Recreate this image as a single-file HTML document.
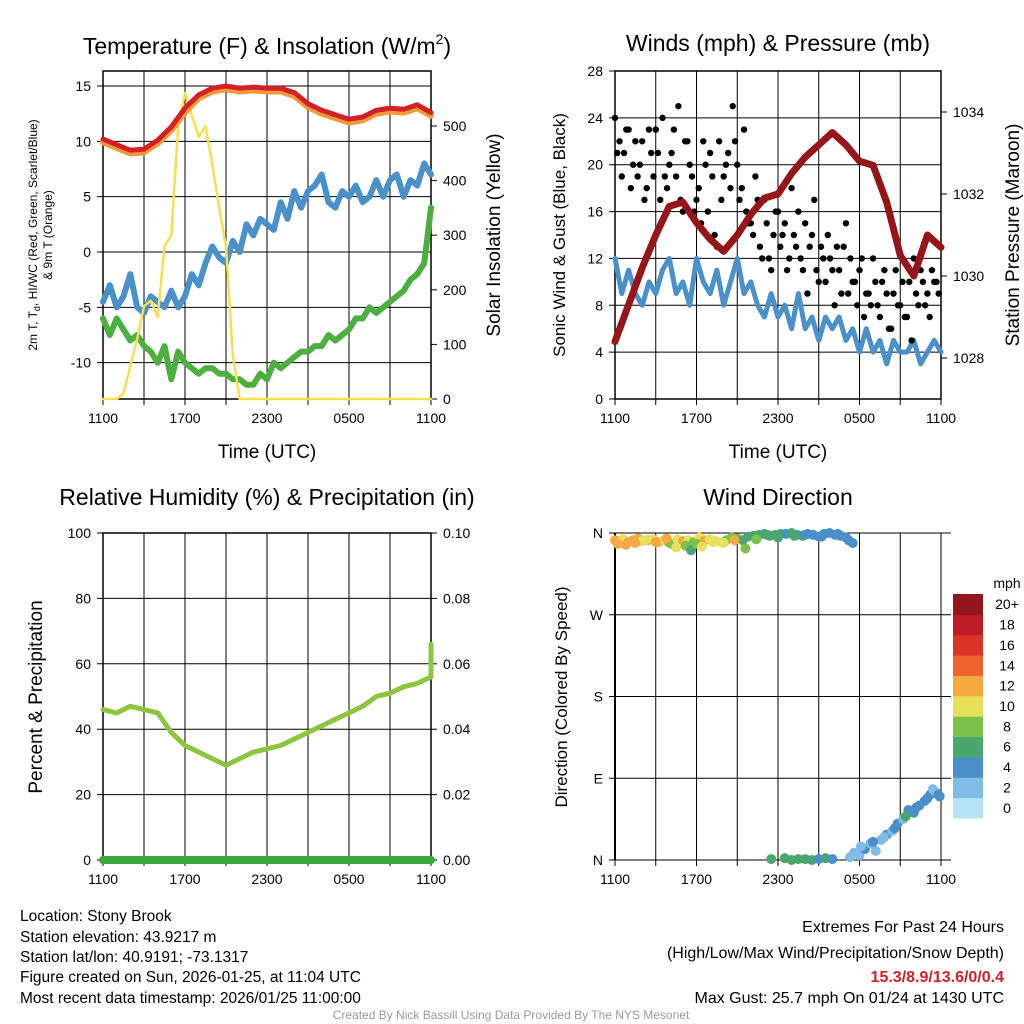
<!DOCTYPE html>
<html><head><meta charset="utf-8">
<style>
html,body{margin:0;padding:0;background:#fff;}
svg{display:block;font-family:"Liberation Sans",sans-serif;}
</style></head>
<body>
<svg id="chart" width="1024" height="1024" viewBox="0 0 1024 1024" xmlns="http://www.w3.org/2000/svg">
<rect width="1024" height="1024" fill="#fff"/>
<g id="p1"></g>
<g id="p2"></g>
<g id="p3"></g>
<g id="p4"></g>
<g font-size="23" text-anchor="middle" fill="#000">
<text x="267" y="54">Temperature (F) &amp; Insolation (W/m<tspan font-size="14" dy="-10">2</tspan><tspan dy="10">)</tspan></text>
<text x="778" y="51">Winds (mph) &amp; Pressure (mb)</text>
<text x="267" y="505">Relative Humidity (%) &amp; Precipitation (in)</text>
<text x="778" y="505">Wind Direction</text>
</g>
<g fill="#000">
<text x="267" y="458" font-size="19" text-anchor="middle">Time (UTC)</text>
<text x="778" y="458" font-size="19" text-anchor="middle">Time (UTC)</text>
<text transform="translate(37,235) rotate(-90)" font-size="12" text-anchor="middle">2m T, T<tspan font-size="9" dy="3">d</tspan><tspan dy="-3">, HI/WC (Red, Green, Scarlet/Blue)</tspan></text>
<text transform="translate(52,235) rotate(-90)" font-size="12" text-anchor="middle">&amp; 9m T (Orange)</text>
<text transform="translate(500,235) rotate(-90)" font-size="19" text-anchor="middle">Solar Insolation (Yellow)</text>
<text transform="translate(565,235) rotate(-90)" font-size="17" text-anchor="middle">Sonic Wind &amp; Gust (Blue, Black)</text>
<text transform="translate(1019,235) rotate(-90)" font-size="19" text-anchor="middle">Station Pressure (Maroon)</text>
<text transform="translate(42,697) rotate(-90)" font-size="19" text-anchor="middle">Percent &amp; Precipitation</text>
<text transform="translate(567,697) rotate(-90)" font-size="17" text-anchor="middle">Direction (Colored By Speed)</text>
</g>
<g font-size="15.5" fill="#000">
<text x="20" y="921">Location: Stony Brook</text>
<text x="20" y="942">Station elevation: 43.9217 m</text>
<text x="20" y="962">Station lat/lon: 40.9191; -73.1317</text>
<text x="20" y="982">Figure created on Sun, 2026-01-25, at 11:04 UTC</text>
<text x="20" y="1003">Most recent data timestamp: 2026/01/25 11:00:00</text>
</g>
<g font-size="16" fill="#000" text-anchor="end">
<text x="1004" y="932">Extremes For Past 24 Hours</text>
<text x="1004" y="958">(High/Low/Max Wind/Precipitation/Snow Depth)</text>
<text x="1004" y="982" fill="#d42027" font-weight="bold">15.3/8.9/13.6/0/0.4</text>
<text x="1004" y="1003">Max Gust: 25.7 mph On 01/24 at 1430 UTC</text>
</g>
<text x="511" y="1019" font-size="12" fill="#999" text-anchor="middle">Created By Nick Bassill Using Data Provided By The NYS Mesonet</text>
</svg>
<script>
// ---- data: each series evenly spaced across 24 hours from 1100 UTC ----
const tickLabels = ["1100","1700","2300","0500","1100"];
const temp2m = [10.2,9.7,9.2,9.3,10.1,11.3,13.0,14.2,14.8,15.0,14.8,14.9,14.8,14.8,14.4,13.4,12.8,12.4,12.0,12.2,12.8,13.0,12.9,13.3,12.6];
const temp9m = [9.9,9.4,8.9,9.0,9.8,11.0,12.6,13.9,14.5,14.7,14.5,14.6,14.5,14.5,14.1,13.1,12.5,12.1,11.7,11.9,12.5,12.7,12.6,13.0,12.3];
const windChill = [-4.5,-3,-5,-4,-2,-5,-5.5,-4,-4.5,-5,-3.5,-5,-4,-2,-3,-1,0.5,-0.5,-1,1,0,2.5,1.5,3,2.5,2,4.5,3,5.5,4,5.5,6,7,4.5,4,5.5,5,6,4.5,5,6.5,5,6.5,7,5,6.5,6,8,7];
const dewpoint = [-6,-7.5,-6,-7,-8,-7.5,-8.5,-9,-10,-8.5,-11.5,-9,-10,-10.5,-11,-10.5,-10.5,-11,-11,-11.5,-11.5,-12,-12,-11,-11.5,-10,-10.5,-10,-9.5,-9,-9,-8.5,-8.5,-7.5,-8,-7.5,-7,-6,-6,-5,-5.5,-5,-4.5,-4,-3.5,-2.5,-2,-1,4];
const insolation = [0,0,0,10,60,110,170,180,150,280,300,500,560,520,480,500,430,350,280,80,0,0,0,0,0,0,0,0,0,0,0,0,0,0,0,0,0,0,0,0,0,0,0,0,0,0,0,0,0];
const windSpeed = [12,9,11,9,8,10,9,11,12,9,10,8,12,10,9,11,8,10,12,9,10,8,7,9,7,8,6,9,6,7,5,7,6,7,5,6,4,6,4,5,3,5,4,4,5,3,4,5,4];
const pressure = [1028.4,1029.3,1030.2,1031.0,1031.7,1031.8,1031.3,1030.9,1030.6,1031.0,1031.5,1031.9,1032.0,1032.5,1032.9,1033.2,1033.5,1033.2,1032.8,1032.7,1031.8,1030.5,1030.0,1031.0,1030.7];
const gusts = [24,22,21,23,20,19,22,18,21,23,17,19,20,23,25,16,22,19,17,15,20,21,14,22,19,21,25,20,18,16,15,19,13,17,12,14,16,14,11,18,13,12,15,13,17,10,12,14,11,13,9,15,12,10,11,7,9,12,8,10,9,6,11,8,7,10,12,8,10,9,11,10];
const gusts2 = [21,19,23,18,22,20,17,23,19,21,24,18,21,19,17,22,20,16,18,22,16,19,13,17,20,18,22,17,23,15,14,17,12,15,11,16,13,15,12,14,16,11,9,14,11,13,10,12,8,11,13,9,10,8,12,9,8,10,7,11,6,9,8,10,7,5,9,11,8,7,10,9];
const humidity = [46,45,47,46,45,39,35,33,31,29,31,33,34,35,37,39,41,43,45,47,50,51,53,54,56];
const humidityEnd = [66];
const precip = [0,0,0,0,0,0,0,0,0,0,0,0,0,0,0,0,0,0,0,0,0,0,0,0,0];
const dirTimes = [0,0.3,0.6,1,1.3,1.7,2,2.4,2.8,3.2,3.6,4,4.3,4.6,5,5.4,5.8,6.2,6.6,7,7.4,7.8,8.2,8.6,9,9.4,9.8,10.2,10.6,11,11.4,11.8,12.2,12.6,13,13.4,13.8,14.2,14.6,15,15.4,15.8,16.2,16.6,17,11.5,12.5,13,13.5,14,14.5,15,15.5,16,17.3,17.6,18,18.4,18.8,19.2,19.6,20,20.4,20.8,21.2,21.6,22,22.4,22.8,23.2,23.6,23.9,0.2,0.8,1.5,2.2,3,3.8,4.5,5.2,5.6,6,6.4,7.2,8,8.8,9.6,10.4,11.2,12,13.2,14,15.2,16.4,17.2,17.5,18.1,19,19.8,20.6,21.4,22.2,23,23.4,23.8];
const dirValues = [352,351,353,350,352,354,351,352,353,350,352,349,347,353,351,352,350,355,352,353,351,350,352,355,354,352,356,357,358,359,357,358,359,359,360,358,357,359,358,356,359,360,358,357,355,1,2,0,1,1,0,1,2,1,3,8,5,12,18,10,22,28,32,40,45,55,52,60,65,72,75,70,348,347,349,352,350,354,344,346,341,348,345,350,349,352,343,353,358,355,357,358,356,359,352,349,15,20,25,35,48,58,68,78,72];
const dirSpeeds = [12,12,11,12,13,12,10,12,11,12,10,9,8,11,12,10,9,10,12,10,10,11,9,8,8,7,7,6,7,6,6,7,6,5,6,5,6,5,5,4,5,4,4,4,4,6,6,6,7,6,6,5,6,4,2,3,2,4,3,2,3,4,3,4,3,4,5,4,4,4,3,4,13,12,12,11,13,12,10,9,7,8,10,11,10,12,8,9,7,6,6,5,4,4,4,4,2,4,3,4,6,4,4,3,4];
const colorLabels = ["0","2","4","6","8","10","12","14","16","18","20+"];
const colorFills = ["#b7e3f8","#7fbce6","#4a8fc8","#48a66e","#7bc14a","#e7e05a","#f6a943","#ef632c","#de3328","#bd1c25","#92161b"];

const NS = "http://www.w3.org/2000/svg";
function el(parent, tag, attrs, text){
  const e = document.createElementNS(NS, tag);
  for (const k in attrs) e.setAttribute(k, attrs[k]);
  if (text !== undefined) e.textContent = text;
  parent.appendChild(e);
  return e;
}
function makeX(x0,x1){ return t => x0 + t*(x1-x0)/24; }
function makeY(v0,v1,y0,y1){ return v => y0 + (v-v0)*(y1-y0)/(v1-v0); }
function even(n){ const a=[]; for(let i=0;i<n;i++) a.push(i*24/(n-1)); return a; }

function frame(g, X, Y0, Y1, yTicks, showBox){
  const x0 = X(0), x1 = X(24);
  for (let h=0; h<=24; h+=3){
    const l = el(g,'line',{x1:X(h),x2:X(h),y1:Y1,y2:Y0+6,stroke:'#000','stroke-width':1});
    
    
  }
  tickLabels.forEach((lab,i)=>{
    const t = el(g,'text',{x:X(i*6),y:Y0+24,'font-size':14,'text-anchor':'middle'},lab);
    
    
  });
  yTicks.forEach(o=>{
    const l = el(g,'line',{x1:x0-6,x2:x1,y1:o.y,y2:o.y,stroke:'#000','stroke-width':1});
    
    
    const t = el(g,'text',{x:x0-12,y:o.y+5,'font-size':14,'text-anchor':'end'},o.label);
    
    
  });
  if (showBox){
    const r = el(g,'rect',{x:x0,y:Y1,width:x1-x0,height:Y0-Y1,fill:'none',stroke:'#000','stroke-width':1.5});
    
    
  } else {
    const a = el(g,'line',{x1:x0,x2:x0,y1:Y1,y2:Y0,stroke:'#000','stroke-width':2});
    
    
  }
}
function rightTicks(g, x, ticks){
  ticks.forEach(o=>{
    const l = el(g,'line',{x1:x,x2:x+6,y1:o.y,y2:o.y,stroke:'#000','stroke-width':1});
    
    
    const t = el(g,'text',{x:x+12,y:o.y+5,'font-size':14},o.label);
    
    
  });
}
function series(g, X, Y, vs, color, w, name, ts){
  ts = ts || even(vs.length);
  const d = vs.map((v,i)=>(i?'L':'M')+X(ts[i]).toFixed(1)+','+Y(v).toFixed(1)).join(' ');
  const p = el(g,'path',{d:d,fill:'none',stroke:color,'stroke-width':w,'stroke-linejoin':'round','stroke-linecap':'round'});
  
  
  return p;
}

// Panel 1
(function(){
  const g = document.getElementById('p1');
  const X = makeX(103,431);
  const Y = makeY(0,15,252,86);
  const YR = makeY(0,500,399,126);
  frame(g,X,399,71,[15,10,5,0,-5,-10].map(v=>({y:Y(v),label:String(v)})),true);
  rightTicks(g,431,[0,100,200,300,400,500].map(v=>({y:YR(v),label:String(v)})));
  series(g,X,Y,dewpoint,'#4caf3f',6,'dewpoint-line');
  series(g,X,Y,windChill,'#4a90c9',6,'windchill-line');
  series(g,X,YR,insolation,'#f7e04f',2.5,'insolation-line');
  series(g,X,Y,temp9m,'#f29a3a',6,'temp-9m-line');
  series(g,X,Y,temp2m,'#d42027',5,'temp-2m-line');
})();

// Panel 2
(function(){
  const g = document.getElementById('p2');
  const X = makeX(615,941);
  const Y = makeY(0,28,399,71);
  const YR = makeY(1028,1034,358,112);
  frame(g,X,399,71,[0,4,8,12,16,20,24,28].map(v=>({y:Y(v),label:String(v)})),true);
  rightTicks(g,941,[1028,1030,1032,1034].map(v=>({y:YR(v),label:String(v)})));
  series(g,X,Y,windSpeed,'#4a90c9',5,'wind-speed-line');
  gusts.forEach((v,i)=>{
    const c = el(g,'circle',{cx:X(i/3),cy:Y(v),r:3.2,fill:'#000'});
    
    
  });
  gusts2.forEach((v,i)=>{
    const c = el(g,'circle',{cx:X(i/3+1/6),cy:Y(v),r:3.2,fill:'#000'});
    
    
  });
  series(g,X,YR,pressure,'#961519',7,'pressure-line');
})();

// Panel 3
(function(){
  const g = document.getElementById('p3');
  const X = makeX(103,431);
  const Y = makeY(0,100,860,533);
  const YR = makeY(0,0.1,860,533);
  frame(g,X,860,533,[0,20,40,60,80,100].map(v=>({y:Y(v),label:String(v)})),true);
  rightTicks(g,431,[0,0.02,0.04,0.06,0.08,0.1].map(v=>({y:YR(v),label:v.toFixed(2)})));
  const ht = even(humidity.length).concat([24]);
  series(g,X,Y,humidity.concat(humidityEnd),'#8cc63f',5,'humidity-line',ht);
  series(g,X,YR,precip,'#3aa83a',8,'precip-line');
})();

// Panel 4
(function(){
  const g = document.getElementById('p4');
  const X = makeX(615,941);
  const Y = makeY(0,360,860,533);
  const labs = ["N","E","S","W","N"];
  frame(g,X,860,533,[0,90,180,270,360].map((v,i)=>({y:Y(v),label:labs[i]})),false);
  [0,90,180,270,360].forEach(v=>{
    const l = el(g,'line',{x1:941,x2:951,y1:Y(v),y2:Y(v),stroke:'#000','stroke-width':1});
    
    
  });
  dirValues.forEach((d,i)=>{
    const bin = Math.min(10, Math.floor(dirSpeeds[i]/2));
    const c = el(g,'circle',{cx:X(dirTimes[i]),cy:Y(d),r:5,fill:colorFills[bin]});
    
    
  });
  const h = (818-594)/11;
  colorLabels.forEach((lab,i)=>{
    const y = 818 - (i+1)*h;
    const r = el(g,'rect',{x:953,y:y,width:30,height:h+0.5,fill:colorFills[i]});
    
    
    const t = el(g,'text',{x:1007,y:y+h/2+5,'font-size':14,'text-anchor':'middle'},lab);
    
    
  });
  const u = el(g,'text',{x:1007,y:588,'font-size':14,'text-anchor':'middle'},'mph');
  
  
})();
</script>
</body></html>
